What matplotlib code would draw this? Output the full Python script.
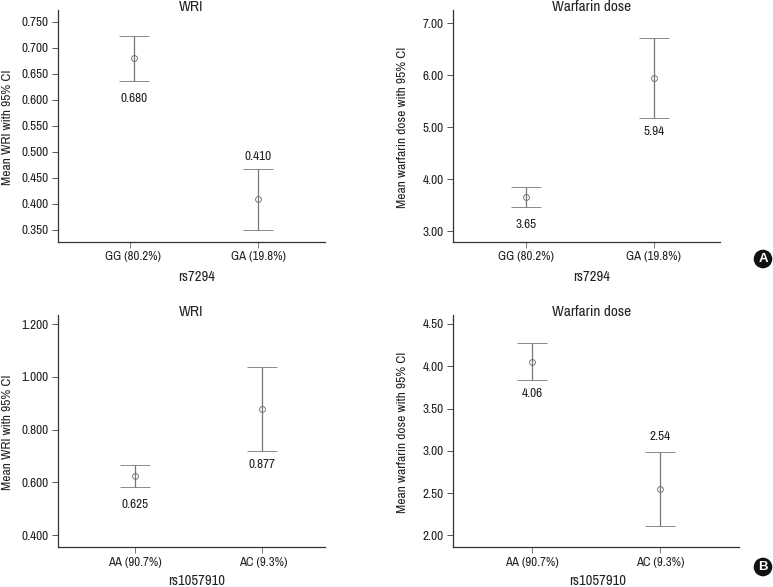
import matplotlib
matplotlib.use("Agg")
import matplotlib.pyplot as plt
import logging
logging.getLogger("matplotlib.font_manager").setLevel(logging.ERROR)

W, H = 773, 587
FONT = ["Archivo Narrow", "Liberation Sans", "DejaVu Sans"]
plt.rcParams["font.family"] = FONT
TXT = "#222222"

# --- data ---
titles = ["WRI", "Warfarin dose", "WRI", "Warfarin dose"]
ylabels = ["Mean WRI with 95% CI", "Mean warfarin dose with 95% CI",
           "Mean WRI with 95% CI", "Mean warfarin dose with 95% CI"]
xlabels = ["rs7294", "rs7294", "rs1057910", "rs1057910"]
categories = [["GG (80.2%)", "GA (19.8%)"], ["GG (80.2%)", "GA (19.8%)"],
              ["AA (90.7%)", "AC (9.3%)"], ["AA (90.7%)", "AC (9.3%)"]]
means = [[0.680, 0.410], [3.65, 5.94], [0.625, 0.877], [4.055, 2.55]]
upper = [[0.722, 0.468], [3.84, 6.72], [0.665, 1.037], [4.28, 2.99]]
lower = [[0.637, 0.350], [3.47, 5.18], [0.584, 0.718], [3.84, 2.106]]
value_labels = [["0.680", "0.410"], ["3.65", "5.94"], ["0.625", "0.877"], ["4.06", "2.54"]]
yticks = [[0.35, 0.40, 0.45, 0.50, 0.55, 0.60, 0.65, 0.70, 0.75],
          [3, 4, 5, 6, 7],
          [0.4, 0.6, 0.8, 1.0, 1.2],
          [2.0, 2.5, 3.0, 3.5, 4.0, 4.5]]
yfmt = ["{:.3f}", "{:.2f}", "{:.3f}", "{:.2f}"]

# --- layout in reference pixels ---
rects = [(58.3, 325, 10, 242), (453.3, 720, 10, 242),
         (58.3, 325, 315, 547.3), (453.3, 739, 315, 547.3)]
tick_px = [(130.3, 258.3), (525.7, 653.7), (135.3, 262), (532, 659.7)]
mark_px = [(134, 258.3), (526.3, 653.7), (135.3, 262), (532, 659.7)]
ytick_px = [(230, 21.7), (231, 23.3), (535, 324.3), (535.3, 324)]
title_px = [(191, 7), (591.7, 7), (191, 312), (591.7, 312)]
xlabel_px = [(197, 277), (592, 277), (197, 581), (598, 581)]
xtick_y_px = [257, 257, 562, 562]
xtick_c_px = [(133, 258.3), (525.5, 653), (135, 263), (531.7, 660)]
ylabel_px = [(7.5, 127), (402.5, 127), (7.5, 432), (402.5, 432)]
value_y_px = [(98, 156), (224.5, 131), (504.5, 465), (393.5, 436.5)]
value_x_px = [(134, 258.3), (526.3, 653.7), (135.5, 262), (532, 660)]

fig = plt.figure(figsize=(W / 100, H / 100), dpi=100, facecolor="white")


def ftext(px, py, s, **kw):
    return fig.text(px / W, 1 - py / H, s, color=kw.pop("color", TXT),
                    ha=kw.pop("ha", "center"), va=kw.pop("va", "center"), **kw)


for i in range(4):
    l, r, t, b = rects[i]
    ax = fig.add_axes([l / W, 1 - b / H, (r - l) / W, (b - t) / H])
    ax.patch.set_alpha(0)
    t0, t1 = tick_px[i]
    per = t1 - t0
    ax.set_xlim((l - t0) / per, (r - t0) / per)
    y0, y1 = yticks[i][0], yticks[i][-1]
    p0, p1 = ytick_px[i]
    sc = (y1 - y0) / (p0 - p1)
    ax.set_ylim(y0 - (b - p0) * sc, y1 + (p1 - t) * sc)

    for s in ("top", "right"):
        ax.spines[s].set_visible(False)
    for s in ("left", "bottom"):
        ax.spines[s].set_color("#333333")
        ax.spines[s].set_linewidth(0.9)

    ax.set_xticks([0, 1])
    ax.set_xticklabels([])
    ax.set_yticks(yticks[i])
    ax.set_yticklabels([yfmt[i].format(v) for v in yticks[i]], fontsize=9.5, color=TXT)
    ax.tick_params(axis="y", length=4, width=0.7, color="#555555", pad=3)
    ax.tick_params(axis="x", length=4, width=0.7, color="#777777")

    m0, m1 = mark_px[i]
    xs = [(m0 - t0) / per, (m1 - t0) / per]
    ax.errorbar(xs, means[i],
                yerr=[[m - lo for m, lo in zip(means[i], lower[i])],
                      [u - m for m, u in zip(means[i], upper[i])]],
                fmt="o", mfc="none", mec="#666666", mew=0.6, ms=4.2,
                ecolor="#777777", elinewidth=0.9, capsize=10.5, capthick=0.9)

    ftext(*title_px[i], titles[i], fontsize=11)
    ftext(*xlabel_px[i], xlabels[i], fontsize=10.5)
    ftext(*ylabel_px[i], ylabels[i], fontsize=9.7, rotation=90)
    for j in range(2):
        ftext(xtick_c_px[i][j], xtick_y_px[i], categories[i][j], fontsize=9.2)
        ftext(value_x_px[i][j], value_y_px[i][j], value_labels[i][j], fontsize=9.5)

for px, py, s in [(763, 259, "A"), (763, 567, "B")]:
    ftext(px, py, s, color="white", fontsize=9.5, fontweight="bold",
          family=["Liberation Sans", "DejaVu Sans"],
          bbox=dict(boxstyle="circle,pad=0.25", fc="#111111", ec="none"))

fig.savefig("out.png", dpi=100)
